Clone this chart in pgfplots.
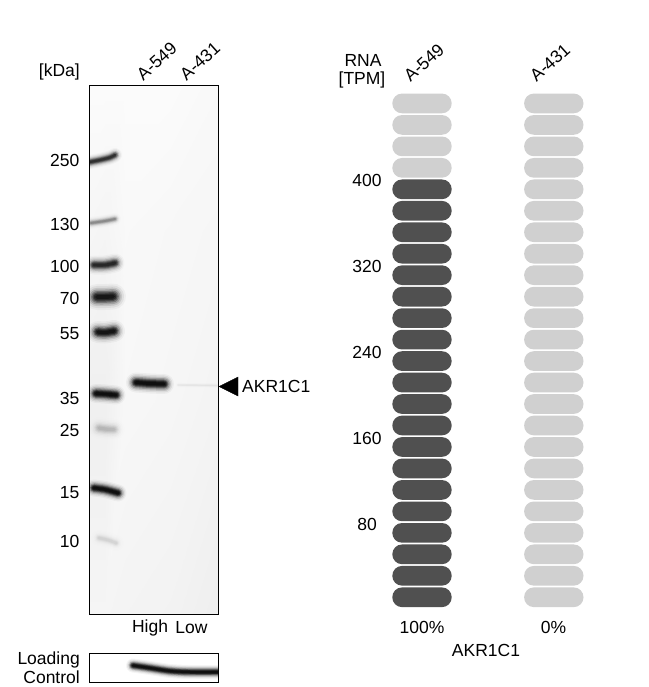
\documentclass[border=0pt]{standalone}
\usepackage{pgfplots}
\usepackage{fontspec}
\setmainfont{Liberation Sans}
\pgfplotsset{compat=1.18}

\newcommand{\fs}{\fontsize{17.5}{19}\selectfont}
\definecolor{pilldark}{HTML}{505050}
\definecolor{pilllight}{HTML}{D0D0D0}

% one RNA unit
\pgfdeclareplotmark{pill}{%
  \pgfpathmoveto{\pgfpoint{-20pt}{-9.85pt}}%
  \pgfpathlineto{\pgfpoint{20pt}{-9.85pt}}%
  \pgfpathcurveto{\pgfpoint{25.5pt}{-9.85pt}}{\pgfpoint{29.7pt}{-5.4pt}}{\pgfpoint{29.7pt}{0pt}}%
  \pgfpathcurveto{\pgfpoint{29.7pt}{5.4pt}}{\pgfpoint{25.5pt}{9.85pt}}{\pgfpoint{20pt}{9.85pt}}%
  \pgfpathlineto{\pgfpoint{-20pt}{9.85pt}}%
  \pgfpathcurveto{\pgfpoint{-25.5pt}{9.85pt}}{\pgfpoint{-29.7pt}{5.4pt}}{\pgfpoint{-29.7pt}{0pt}}%
  \pgfpathcurveto{\pgfpoint{-29.7pt}{-5.4pt}}{\pgfpoint{-25.5pt}{-9.85pt}}{\pgfpoint{-20pt}{-9.85pt}}%
  \pgfpathclose
  \pgfusepathqfill}

% soft blot band: strength, thickness, points in image rows
\newcommand{\band}[3]{%
  \foreach \f/\o in {2/.04,1.7/.07,1.4/.12,1.15/.2,.9/.3,.7/.4,.5/.5,.3/.5}{%
    \pgfmathsetmacro\lw{\f*#2}%
    \pgfmathsetmacro\op{\o*#1}%
    \edef\cmd{\noexpand\addplot[black,forget plot,smooth,line cap=round,line join=round,line width=\lw pt,opacity=\op]}%
    \cmd coordinates {#3};
  }}

\pgfplotstableread{
x y g
89.5 85.3 .985
105 85.3 .985
125 85.3 .985
170 85.3 .985
218.5 85.3 .975
89.5 230 .965
105 230 .96
125 230 .975
170 230 .97
218.5 230 .965
89.5 400 .94
105 400 .94
125 400 .97
170 400 .965
218.5 400 .955
89.5 614.3 .96
105 614.3 .96
125 614.3 .955
170 614.3 .95
218.5 614.3 .935
}\blotbg

\begin{document}
\begin{tikzpicture}[lab/.style={font=\fs,inner sep=0pt}]
\path[use as bounding box] (0,0) rectangle (648pt,687pt);

% western blot, x and y are image pixels
\begin{axis}[
  at={(89.5pt,72.7pt)}, anchor=south west,
  scale only axis, width=129pt, height=529pt,
  xmin=89.5, xmax=218.5, ymin=85.3, ymax=614.3, y dir=reverse,
  axis on top,
  axis line style={line width=1pt},
  major tick length=0pt,
  colormap={grays}{gray(0cm)=(0); gray(1cm)=(1)},
  point meta min=0, point meta max=1,
  xtick={156.7,200}, xticklabels={A-549,A-431}, xticklabel pos=right,
  xticklabel style={font=\fs,yshift=24pt,anchor=center,rotate=42},
  ytick={160,224,266,298,334,398,430,493,541},
  yticklabels={250,130,100,70,55,35,25,15,10},
  yticklabel style={font=\fs,anchor=east,inner sep=0pt,xshift=-10pt},
]
\addplot[surf,shader=interp,mesh/rows=4,point meta=explicit,forget plot]
  table[x=x,y=y,meta=g] {\blotbg};
\band{.65}{7}{(90,162) (100,160) (110,157.5) (115,155)}
\band{.25}{6}{(91,223) (105,221) (115,219)}
\band{.72}{9.5}{(94,265) (105,265) (115,263)}
\band{.88}{13}{(97,297) (105,297) (113,296.5)}
\band{.9}{11}{(98,332) (105,332.5) (114,331)}
\band{1}{9.5}{(96,393.5) (105,394) (116,395)}
\band{.12}{11}{(99,428) (105,429) (114,429.5)}
\band{1}{8.5}{(94,488) (105,489.5) (118,493)}
\band{.06}{8}{(99,538) (108,540) (116,543)}
\band{1}{10}{(136,382.5) (150,383.5) (164,384)}
\band{.03}{3}{(178,385) (217,385.5)}
\end{axis}

% loading control
\begin{axis}[
  at={(89.5pt,4.7pt)}, anchor=south west,
  scale only axis, width=129pt, height=29pt,
  xmin=89.5, xmax=218.5, ymin=653.3, ymax=682.3, y dir=reverse,
  axis on top,
  axis line style={line width=1pt},
  xtick=\empty, ytick=\empty,
]
\band{1}{7}{(133,665.5) (150,668) (170,671) (190,672) (225,672)}
\end{axis}

% RNA units, y in TPM
\begin{axis}[
  at={(392pt,79pt)}, anchor=south west,
  scale only axis, width=192pt, height=515.3pt,
  xmin=392, xmax=584, ymin=0, ymax=480,
  axis line style={draw=none},
  major tick length=0pt,
  clip=false,
  /pgf/number format/assume math mode=true,
  xtick={424,550}, xticklabels={A-549,A-431}, xticklabel pos=right,
  xticklabel style={font=\fs,yshift=30pt,anchor=center,rotate=42},
  ytick={80,160,240,320,400},
  yticklabel style={font=\fs,anchor=center,xshift=-25pt,yshift=-2pt},
]
\addplot[only marks,mark=pill,mark options={draw=none,fill=pilldark}] coordinates {
  (422,10) (422,30) (422,50) (422,70) (422,90) (422,110) (422,130) (422,150)
  (422,170) (422,190) (422,210) (422,230) (422,250) (422,270) (422,290) (422,310)
  (422,330) (422,350) (422,370) (422,390)};
\addplot[only marks,mark=pill,mark options={draw=none,fill=pilllight}] coordinates {
  (422,410) (422,430) (422,450) (422,470)
  (553.8,10) (553.8,30) (553.8,50) (553.8,70) (553.8,90) (553.8,110) (553.8,130) (553.8,150)
  (553.8,170) (553.8,190) (553.8,210) (553.8,230) (553.8,250) (553.8,270) (553.8,290) (553.8,310)
  (553.8,330) (553.8,350) (553.8,370) (553.8,390) (553.8,410) (553.8,430) (553.8,450) (553.8,470)};
\end{axis}

% arrow and loose labels, image pixels
\begin{axis}[
  at={(0pt,0pt)}, anchor=south west,
  scale only axis, width=648pt, height=687pt,
  xmin=0, xmax=648, ymin=0, ymax=687, y dir=reverse,
  hide axis, clip=false,
]
\addplot[black,fill=black] coordinates {(219,386.5) (238,377) (238,396) (219,386.5)};
\node[lab,anchor=east] at (axis cs:80,71.5) {[kDa]};
\node[lab,anchor=west] at (axis cs:242,386) {AKR1C1};
\node[lab] at (axis cs:150,628) {High};
\node[lab] at (axis cs:191.5,628) {Low};
\node[lab,anchor=east] at (axis cs:80,660) {Loading};
\node[lab,anchor=east] at (axis cs:80,677) {Control};
\node[lab] at (axis cs:363,60) {RNA};
\node[lab] at (axis cs:362,80) {[TPM]};
\node[lab] at (axis cs:422,627.5) {100\%};
\node[lab] at (axis cs:553.5,627.5) {0\%};
\node[lab] at (axis cs:486,650) {AKR1C1};
\end{axis}
\end{tikzpicture}
\end{document}
